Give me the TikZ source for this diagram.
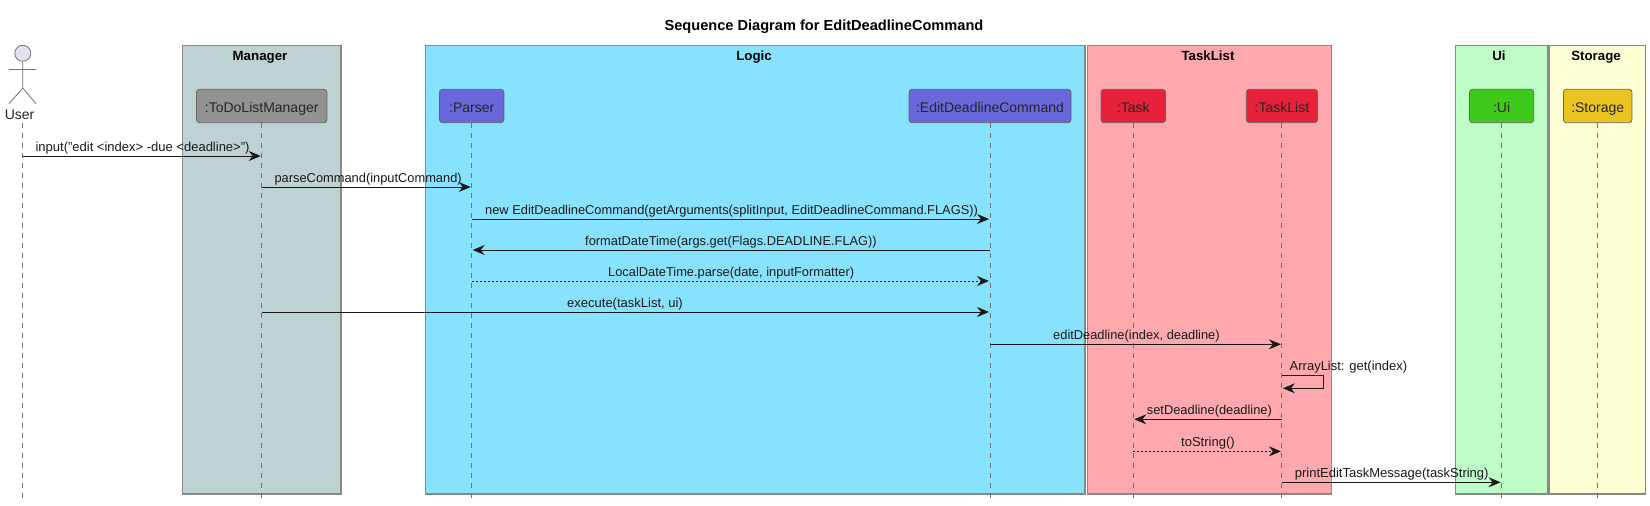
\documentclass[tikz,border=0pt]{standalone}
\usepackage{fontspec}
\setmainfont{Liberation Sans}
\usetikzlibrary{arrows.meta,positioning}
\definecolor{managerbg}{RGB}{191,210,211}
\definecolor{managerhead}{RGB}{146,146,146}
\definecolor{logicbg}{RGB}{135,226,255}
\definecolor{logichead}{RGB}{106,103,219}
\definecolor{tasklistbg}{RGB}{255,168,173}
\definecolor{tasklisthead}{RGB}{230,33,57}
\definecolor{uibg}{RGB}{191,253,199}
\definecolor{uihead}{RGB}{63,201,27}
\definecolor{storagebg}{RGB}{255,255,213}
\definecolor{storagehead}{RGB}{235,196,31}
\definecolor{actorfill}{RGB}{226,226,240}
\definecolor{edgegray}{RGB}{136,136,136}
\definecolor{headedge}{RGB}{100,100,100}
\definecolor{linegray}{RGB}{115,115,115}
\definecolor{msgblack}{RGB}{24,24,24}

\begin{document}
\begin{tikzpicture}[
    x=1pt, y=-1pt,
    groupbox/.style={rectangle, draw=edgegray, line width=1.2pt},
    grouptitle/.style={font=\fontsize{13.3}{15}\selectfont\bfseries, inner sep=0pt, text height=10pt, text depth=3pt},
    head/.style={rectangle, draw=headedge, rounded corners=3pt, line width=0.8pt, minimum height=33.4pt, inner sep=0pt, text height=12pt, text depth=0pt, font=\fontsize{14}{16}\selectfont, text=black!85},
    lifeline/.style={draw=linegray, line width=0.9pt, dash pattern=on 5pt off 5pt},
    msg/.style={draw=msgblack, line width=1pt, -{Stealth[length=12pt, width=10pt, inset=4pt]}, shorten >=1pt},
    reply/.style={msg, dash pattern=on 2pt off 2pt},
    msglabel/.style={anchor=base west, inner sep=0pt, font=\fontsize{13}{15}\selectfont, text=black!90},
    tightlabel/.style={msglabel, font=\fontsize{12.85}{15}\selectfont}
]
    \useasboundingbox (0,0) rectangle (1650,506);

    \node[font=\fontsize{14.6}{16}\selectfont\bfseries, inner sep=0pt] (title) at (824,26.5) {Sequence Diagram for EditDeadlineCommand};

    % boxes
    \draw[groupbox, fill=managerbg] (182.3,45.3) rectangle (341,494);
    \draw[groupbox, fill=logicbg] (425.5,45.3) rectangle (1085,494);
    \draw[groupbox, fill=tasklistbg] (1087.3,45.3) rectangle (1331.5,494);
    \draw[groupbox, fill=uibg] (1455.3,45.3) rectangle (1548,494);
    \draw[groupbox, fill=storagebg] (1549.7,45.3) rectangle (1645.5,494);

    \node[grouptitle] (managertitle) at (260,56.5) {Manager};
    \node[grouptitle] (logictitle) at (754,56.5) {Logic};
    \node[grouptitle] (tasklisttitle) at (1208,56.5) {TaskList};
    \node[grouptitle] (uititle) at (1499,56.5) {Ui};
    \node[grouptitle] (storagetitle) at (1596,56.5) {Storage};

    % participants
    \node[head, fill=managerhead, minimum width=130.5pt] (manager) at (261.7,106) {:ToDoListManager};
    \node[head, fill=logichead, minimum width=64.3pt] (parser) at (471.7,106) {:Parser};
    \node[head, fill=logichead, minimum width=162pt] (edit) at (990,106) {:EditDeadlineCommand};
    \node[head, fill=tasklisthead, minimum width=64.5pt] (task) at (1133.3,106) {:Task};
    \node[head, fill=tasklisthead, minimum width=71.2pt] (tasklist) at (1281.9,106) {:TaskList};
    \node[head, fill=uihead, minimum width=64.2pt] (ui) at (1501.6,106) {:Ui};
    \node[head, fill=storagehead, minimum width=68.5pt] (storage) at (1597.7,106) {:Storage};

    % actor
    \node[circle, draw=linegray, fill=actorfill, line width=0.8pt, minimum size=16pt, inner sep=0pt] (userhead) at (22.8,53.3) {};
    \coordinate (userhip) at (22.8,88);
    \coordinate (userline) at (22.8,123);
    \draw[draw=linegray, line width=0.8pt] (userhead) -- (userhip) -- (9,103.7);
    \draw[draw=linegray, line width=0.8pt] (userhip) -- (36,103.7);
    \draw[draw=linegray, line width=0.8pt] (9,69.3) -- (36,69.3);
    \node[inner sep=0pt, font=\fontsize{14}{16}\selectfont, text=black!85] (user) at (19.6,115) {User};

    % lifelines
    \draw[lifeline] (userline) -- (userline |- 0,498);
    \draw[lifeline] (manager.south) -- (manager |- 0,498);
    \draw[lifeline] (parser.south) -- (parser |- 0,498);
    \draw[lifeline] (edit.south) -- (edit |- 0,498);
    \draw[lifeline] (task.south) -- (task |- 0,498);
    \draw[lifeline] (tasklist.south) -- (tasklist |- 0,498);
    \draw[lifeline] (ui.south) -- (ui |- 0,498);
    \draw[lifeline] (storage.south) -- (storage |- 0,498);

    % messages
    \draw[msg] (userline |- 0,156) -- (manager |- 0,156);
    \draw[msg] (manager |- 0,187) -- (parser |- 0,187);
    \draw[msg] (parser |- 0,219) -- (edit |- 0,219);
    \draw[msg] (edit |- 0,250) -- (parser |- 0,250);
    \draw[reply] (parser |- 0,281) -- (edit |- 0,281);
    \draw[msg] (manager |- 0,312) -- (edit |- 0,312);
    \draw[msg] (edit |- 0,344.3) -- (tasklist |- 0,344.3);
    \draw[msg] (tasklist |- 0,375.3) -- ++(42,0) -- ++(0,13) -- (tasklist |- 0,388.3);
    \draw[msg] (tasklist |- 0,419.3) -- (task |- 0,419.3);
    \draw[reply] (task |- 0,451.3) -- (tasklist |- 0,451.3);
    \draw[msg] (tasklist |- 0,482.3) -- (ui |- 0,482.3);

    \node[msglabel] (inputlabel) at (35.4,151) {input("edit <index> -due <deadline>")};
    \node[tightlabel] (parselabel) at (274.4,182) {parseCommand(inputCommand)};
    \node[tightlabel] (newlabel) at (485,214) {new EditDeadlineCommand(getArguments(splitInput, EditDeadlineCommand.FLAGS))};
    \node[tightlabel] (formatlabel) at (585,245) {formatDateTime(args.get(Flags.DEADLINE.FLAG))};
    \node[tightlabel] (parsedatelabel) at (608,276) {LocalDateTime.parse(date, inputFormatter)};
    \node[msglabel] (executelabel) at (567,307) {execute(taskList, ui)};
    \node[tightlabel] (editlabel) at (1053,339) {editDeadline(index, deadline)};
    \node[msglabel] (getlabel) at (1289.5,370) {ArrayList: get(index)};
    \node[tightlabel] (setlabel) at (1146.7,414) {setDeadline(deadline)};
    \node[msglabel] (stringlabel) at (1181,446) {toString()};
    \node[msglabel] (printlabel) at (1294.7,477) {printEditTaskMessage(taskString)};
\end{tikzpicture}
\end{document}
